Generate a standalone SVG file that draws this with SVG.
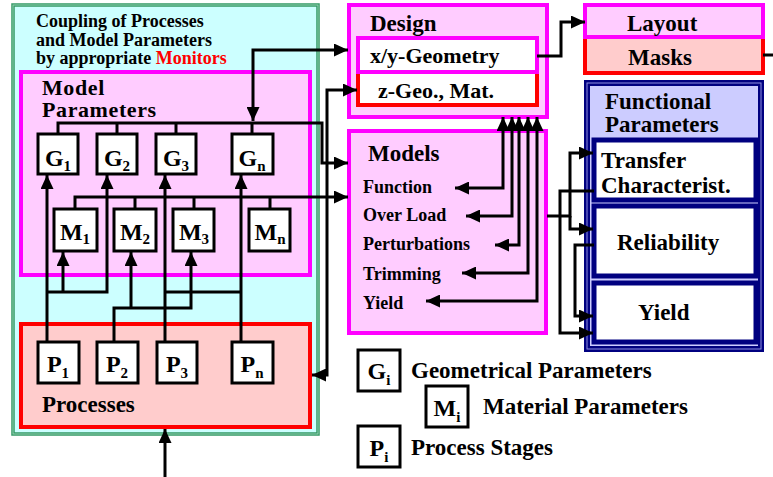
<svg xmlns="http://www.w3.org/2000/svg" width="773" height="477" viewBox="0 0 773 477">
<defs>
<marker id="ah" viewBox="0 0 14 13" markerWidth="14" markerHeight="13" refX="14" refY="6.5" orient="auto-start-reverse" markerUnits="userSpaceOnUse">
<path d="M0,0 L14,6.5 L0,13 z" fill="#000"/>
</marker>
<style>
text{font-family:"Liberation Serif","Times New Roman",serif;font-weight:bold;fill:#000}
.t18{font-size:18px}
.t22{font-size:22px}
.t23{font-size:23px}
.mp{font-size:22px;letter-spacing:0.6px}
.pk{fill:#ffccff;stroke:#ff00ff;stroke-width:4}
.rd{fill:#ffcccc;stroke:#ff0000;stroke-width:4}
.wb{fill:#fff;stroke:#000;stroke-width:3}
.nv{fill:#fff;stroke:#000080;stroke-width:5}
.lbl{font-size:24px;text-anchor:middle}
.sub{font-size:15px}
.ln{fill:none;stroke:#000;stroke-width:3}
.ae{marker-end:url(#ah)}
.ab{marker-start:url(#ah);marker-end:url(#ah)}
</style>
</defs>

<g id="coupling">
<rect x="13" y="5" width="305" height="429" fill="#ccffff" stroke="#339966" stroke-width="3.5"/>
<rect x="13" y="5" width="305" height="429" fill="none" stroke="#a8dcc0" stroke-width="0.8"/>
<text class="t18" x="36" y="27">Coupling of Processes</text>
<text class="t18" x="36" y="46">and Model Parameters</text>
<text class="t18" x="36" y="64">by appropriate <tspan fill="#ff0000">Monitors</tspan></text>
</g>

<g id="model-parameters">
<rect class="pk" x="21" y="72" width="289" height="203"/>
<text class="mp" x="42" y="95">Model</text>
<text class="mp" x="42" y="117">Parameters</text>
</g>

<g id="G1"><rect class="wb" x="38" y="134" width="40" height="40"/><text class="lbl" x="58" y="166">G<tspan class="sub" dy="5">1</tspan></text></g>
<g id="G2"><rect class="wb" x="97" y="134" width="40" height="40"/><text class="lbl" x="117" y="166">G<tspan class="sub" dy="5">2</tspan></text></g>
<g id="G3"><rect class="wb" x="156" y="134" width="40" height="40"/><text class="lbl" x="176" y="166">G<tspan class="sub" dy="5">3</tspan></text></g>
<g id="Gn"><rect class="wb" x="232" y="134" width="41" height="40"/><text class="lbl" x="252" y="166">G<tspan class="sub" dy="5">n</tspan></text></g>

<g id="M1"><rect class="wb" x="54" y="209" width="43" height="42"/><text class="lbl" x="75" y="240">M<tspan class="sub" dy="4">1</tspan></text></g>
<g id="M2"><rect class="wb" x="114" y="209" width="42" height="42"/><text class="lbl" x="135" y="240">M<tspan class="sub" dy="4">2</tspan></text></g>
<g id="M3"><rect class="wb" x="173" y="209" width="41" height="42"/><text class="lbl" x="194" y="240">M<tspan class="sub" dy="4">3</tspan></text></g>
<g id="Mn"><rect class="wb" x="249" y="209" width="41" height="42"/><text class="lbl" x="270" y="240">M<tspan class="sub" dy="4">n</tspan></text></g>

<g id="processes">
<rect class="rd" x="21" y="324" width="289" height="103"/>
<text class="t23" x="42" y="412">Processes</text>
</g>

<g id="P1"><rect class="wb" x="38" y="342" width="41" height="41"/><text class="lbl" x="58" y="372">P<tspan class="sub" dy="6">1</tspan></text></g>
<g id="P2"><rect class="wb" x="97" y="342" width="41" height="41"/><text class="lbl" x="117" y="372">P<tspan class="sub" dy="6">2</tspan></text></g>
<g id="P3"><rect class="wb" x="157" y="342" width="40" height="41"/><text class="lbl" x="177" y="372">P<tspan class="sub" dy="6">3</tspan></text></g>
<g id="Pn"><rect class="wb" x="232" y="342" width="41" height="41"/><text class="lbl" x="252" y="372">P<tspan class="sub" dy="6">n</tspan></text></g>

<g id="design">
<rect class="pk" x="349" y="5" width="198" height="112"/>
<text class="t23" x="370" y="31">Design</text>
</g>
<g id="z-geo">
<rect x="358" y="72" width="179" height="33" fill="#fff" stroke="#ff0000" stroke-width="4"/>
<text class="t22" x="378" y="98">z-Geo., Mat.</text>
</g>
<g id="xy-geometry">
<rect x="358" y="38" width="179" height="34" fill="#fff" stroke="#ff00ff" stroke-width="4"/>
<text class="t22" x="370" y="63">x/y-Geometry</text>
</g>

<g id="models">
<rect class="pk" x="349" y="131" width="197" height="202"/>
<text class="t23" x="368" y="161">Models</text>
<text class="t18" x="363" y="193">Function</text>
<text class="t18" x="363" y="221">Over Load</text>
<text class="t18" x="363" y="250">Perturbations</text>
<text class="t18" x="363" y="280">Trimming</text>
<text class="t18" x="363" y="309">Yield</text>
</g>

<g id="masks">
<rect class="rd" x="585" y="37" width="178" height="36"/>
<text class="t23" x="628" y="65">Masks</text>
</g>
<g id="layout">
<rect class="pk" x="585" y="5" width="178" height="32"/>
<text class="t23" x="627" y="31">Layout</text>
</g>

<g id="functional-parameters">
<rect x="587" y="83" width="174" height="266" fill="#ccccff" stroke="#000080" stroke-width="6"/>
<rect x="587" y="83" width="174" height="266" fill="none" stroke="#8f8fe0" stroke-width="1"/>
<text class="t23" x="605" y="109">Functional</text>
<text class="t23" x="605" y="132">Parameters</text>
</g>
<g id="transfer"><rect class="nv" x="594" y="140" width="162" height="60"/>
<text class="t23" x="601" y="168">Transfer</text>
<text class="t23" x="601" y="193">Characterist.</text></g>
<g id="reliability"><rect class="nv" x="594" y="206" width="162" height="70"/>
<text class="t23" x="617" y="250">Reliability</text></g>
<g id="yield"><rect class="nv" x="594" y="283" width="162" height="59"/>
<text class="t23" x="638" y="320">Yield</text></g>

<g id="legend">
<rect class="wb" x="358" y="350" width="42" height="41"/><text class="lbl" x="379" y="379">G<tspan class="sub" dy="6">i</tspan></text>
<text class="t23" x="411" y="378">Geometrical Parameters</text>
<rect class="wb" x="426" y="386" width="42" height="41"/><text class="lbl" x="447" y="416">M<tspan class="sub" dy="6">i</tspan></text>
<text class="t23" x="483" y="414">Material Parameters</text>
<rect class="wb" x="358" y="426" width="42" height="41"/><text class="lbl" x="379" y="456">P<tspan class="sub" dy="6">i</tspan></text>
<text class="t23" x="411" y="455">Process Stages</text>
</g>

<g id="connectors">
<path class="ln ae" d="M58,134 V123 H322 V163 H348"/>
<path class="ln" d="M117,123 V134 M176,123 V134 M252,123 V134"/>
<path class="ln ab" d="M253,121 V50 H348"/>
<path class="ln ab" d="M312,375 H327 V90 H357"/>
<path class="ln ae" d="M75,209 V197 H348"/>
<path class="ln" d="M135,197 V209 M194,197 V209 M270,197 V209"/>
<path class="ln ae" d="M47,342 V175"/>
<path class="ln ae" d="M47,292 H107 V175"/>
<path class="ln ae" d="M63,292 V252"/>
<path class="ln ae" d="M114,342 V308 H191 V252"/>
<path class="ln ae" d="M131,308 V252"/>
<path class="ln ae" d="M165,342 V175"/>
<path class="ln" d="M165,292 H241"/>
<path class="ln ae" d="M241,342 V175"/>
<path class="ln ae" d="M165,477 V429"/>
<path class="ln ab" d="M455,188 H503 V117"/>
<path class="ln ab" d="M466,216 H512 V117"/>
<path class="ln ab" d="M495,245 H519 V117"/>
<path class="ln ab" d="M462,273 H528 V117"/>
<path class="ln ab" d="M426,301 H537 V117"/>
<path class="ln ae" d="M537,56 H561 V22 H585"/>
<path class="ln" d="M763,55 H773"/>
<path class="ln ae" d="M547,216 H570 V153 H593"/>
<path class="ln ae" d="M570,216 V229 H593"/>
<path class="ln ae" d="M594,191 H560 V333 H593"/>
<path class="ln ae" d="M594,245 H575 V316 H593"/>
</g>
</svg>
